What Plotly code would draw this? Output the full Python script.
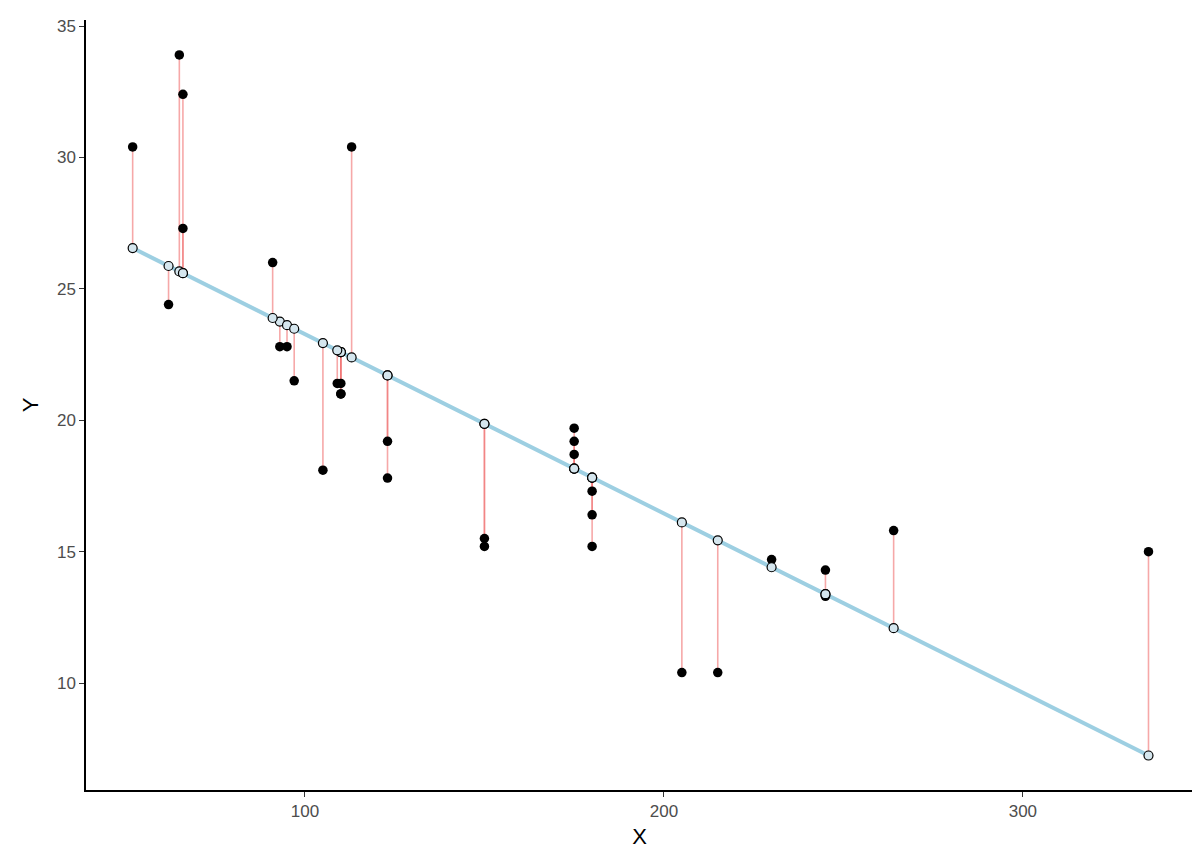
import plotly.graph_objects as go

hp = [110,110,93,110,175,105,245,62,95,123,123,180,180,180,205,215,230,66,52,65,97,150,150,245,175,66,91,113,264,175,335,109]
mpg = [21.0,21.0,22.8,21.4,18.7,18.1,14.3,24.4,22.8,19.2,17.8,16.4,17.3,15.2,10.4,10.4,14.7,32.4,30.4,33.9,21.5,15.5,15.2,13.3,19.2,27.3,26.0,30.4,15.8,19.7,15.0,21.4]
fit_by_hp = {110:22.594,93:23.754,175:18.159,105:22.935,245:13.383,62:25.869,95:23.617,123:21.707,
             180:17.818,205:16.112,215:15.430,230:14.406,66:25.596,52:26.551,65:25.664,97:23.481,
             150:19.864,91:23.890,113:22.389,264:12.087,335:7.242,109:22.662}
fitted = [fit_by_hp[h] for h in hp]

sx, sy = [], []
for h, m, f in zip(hp, mpg, fitted):
    sx += [h, h, None]; sy += [m, f, None]

order = sorted(range(len(hp)), key=lambda i: hp[i])
fig = go.Figure()
fig.add_trace(go.Scatter(x=sx, y=sy, mode="lines", line=dict(color="rgba(240,110,110,0.6)", width=1.6), hoverinfo="skip"))
fig.add_trace(go.Scatter(x=[hp[i] for i in order], y=[fitted[i] for i in order], mode="lines",
                         line=dict(color="#9DCFE2", width=4)))
fig.add_trace(go.Scatter(x=hp, y=mpg, mode="markers", marker=dict(color="black", size=9.5)))
fig.add_trace(go.Scatter(x=hp, y=fitted, mode="markers",
                         marker=dict(color="#D5E6EE", size=9, line=dict(color="black", width=1.2))))

ax = dict(showgrid=False, zeroline=False, showline=True, linecolor="black", linewidth=1.5,
          ticks="outside", ticklen=5, tickcolor="#333", tickfont=dict(size=17, color="#4d4d4d"),
          title_font=dict(size=22, color="black"), automargin=False)
fig.update_layout(width=1200, height=857, plot_bgcolor="white", paper_bgcolor="white",
                  showlegend=False, margin=dict(l=78, r=15, t=12, b=75),
                  font=dict(family="Liberation Sans, Arial"),
                  xaxis=dict(ax, title=dict(text="X", standoff=8), range=[39.0, 347.4], tickvals=[100,200,300]),
                  yaxis=dict(ax, title=dict(text="Y", standoff=12), range=[5.93, 35.23], tickvals=[10,15,20,25,30,35]))
fig.write_html("out.html")
